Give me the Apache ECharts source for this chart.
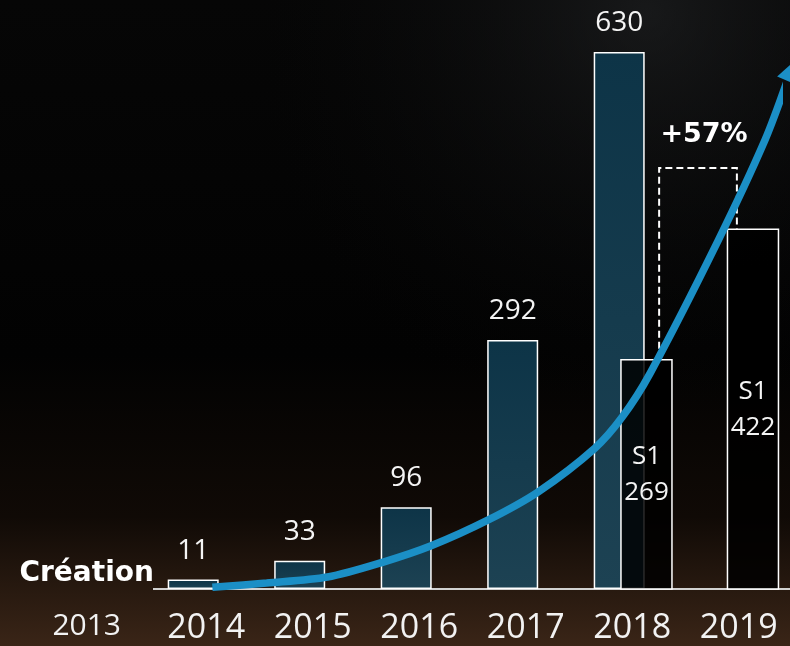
<!DOCTYPE html>
<html><head><meta charset="utf-8">
<script src="https://cdn.jsdelivr.net/npm/echarts@6/dist/echarts.min.js"></script>
<style>html,body{margin:0;padding:0;background:#000}#c{width:790px;height:646px}</style>
</head><body><div id="c"></div>
<script>
// ---- data ----
const years = ['2013', '2014', '2015', '2016', '2017', '2018', '2019'];
const totals = [null, 11, 33, 96, 292, 630, null];
const s1Values = [null, null, null, null, null, 269, 422];
const s1Label = 'S1';
const projected = [null, null, null, null, null, null, 494];
const growthLabel = '+57%';
const creationLabel = 'Création';
const creationIndex = 0;
// growth trend curve (x in category-index units, y in value units)
const trendX = [1.18, 1.69, 2.26, 2.77, 3.24, 3.77, 4.24, 4.77, 5.03, 5.29, 5.93, 6.37, 6.58];
const trendY = [2, 7, 14, 31, 51, 81, 114, 165, 202, 253, 409, 527, 597];
const arrowHead = [6.623, 609];

// ---- chart ----
const chart = echarts.init(document.getElementById('c'), null, {renderer: 'canvas'});
const FONT = '"Open Sans", "Noto Sans", sans-serif';
const BAND_OFF = 0.256;
const BLUE = '#1b8fc6';

const trendData = trendX.map((x, i) => [x, trendY[i]]);
const s1Data = s1Values.map((v, i) => v == null ? null : [i, v]).filter(d => d);
const projData = projected.map((v, i) => v == null ? null : [i, v]).filter(d => d);

chart.setOption({
  animation: false,
  backgroundColor: {
    type: 'linear', x: 0, y: 0, x2: 0, y2: 1,
    colorStops: [
      {offset: 0, color: '#060606'},
      {offset: 0.55, color: '#020202'},
      {offset: 0.8, color: '#100a06'},
      {offset: 1, color: '#3a2517'}
    ]
  },
  graphic: [
    {type: 'rect', z: -10, silent: true, shape: {x: 0, y: 0, width: 790, height: 646},
     style: {fill: {type: 'radial', x: 0.82, y: 0.02, r: 0.7,
       colorStops: [{offset: 0, color: 'rgba(38,40,42,0.55)'}, {offset: 1, color: 'rgba(0,0,0,0)'}]}}},
    {type: 'line', z: 1, silent: true, shape: {x1: 153, y1: 589, x2: 790, y2: 589},
     style: {stroke: '#d2d2d2', lineWidth: 2}}
  ],
  grid: {left: 33.45, right: 11.05, top: 0, bottom: 57, containLabel: false},
  xAxis: [
    {type: 'category', data: years, gridIndex: 0,
     axisLine: {show: false}, axisTick: {show: false}, splitLine: {show: false},
     axisLabel: {
       interval: 0, margin: 22,
       formatter: v => v === '2013' ? '{a|' + v + '}' : '{b|' + v + '}',
       rich: {
         a: {fontSize: 30, fontFamily: FONT, color: '#f2f2f2'},
         b: {fontSize: 34, fontFamily: FONT, color: '#f2f2f2', padding: [0, 0, 0, 26]}
       }
     }},
    {type: 'value', min: -0.5, max: 6.5, show: false, gridIndex: 0}
  ],
  yAxis: {type: 'value', min: 0, max: 691, show: false},
  series: [
    {
      type: 'bar', data: totals, barWidth: 51, z: 2,
      itemStyle: {
        color: {type: 'linear', x: 0, y: 0, x2: 0, y2: 1,
          colorStops: [{offset: 0, color: '#0d3447'}, {offset: 1, color: '#1d4253'}]},
        borderColor: '#ffffff', borderWidth: 1.5
      },
      label: {show: true, position: 'top', distance: 15, color: '#f4f4f4', fontSize: 28, fontFamily: FONT}
    },
    {
      type: 'custom', z: 3, data: projData,
      renderItem: (params, api) => {
        const i = api.value(0), v = api.value(1);
        const top = api.coord([i, v]);
        const band = api.size([1, 0])[0];
        const w = band * 0.73;
        const cx = top[0] - band * 0.26;
        const x1 = cx - w / 2, x2 = cx + w / 2;
        const leftStop = api.coord([i, s1Values[i - 1] || 0])[1];
        const rightStop = api.coord([i, s1Values[i] || 0])[1];
        return {type: 'group', children: [
          {type: 'polyline', shape: {points: [[x1, leftStop], [x1, top[1]], [x2, top[1]], [x2, rightStop]]},
           style: {fill: 'none', stroke: '#ffffff', lineWidth: 2, lineDash: [7, 4]}},
          {type: 'text', style: {text: growthLabel, x: cx + 6, y: top[1] - 33, align: 'center',
            verticalAlign: 'middle', fill: '#ffffff', fontSize: 27, fontWeight: 'bold',
            fontFamily: '"DejaVu Sans", sans-serif'}}
        ]};
      }
    },
    {
      type: 'custom', z: 4, data: s1Data,
      renderItem: (params, api) => {
        const i = api.value(0), v = api.value(1);
        const top = api.coord([i, v]);
        const base = api.coord([i, 0]);
        const band = api.size([1, 0])[0];
        const w = 51;
        const cx = top[0] + band * BAND_OFF;
        return {type: 'group', children: [
          {type: 'rect', shape: {x: cx - w / 2, y: top[1], width: w, height: base[1] - top[1]},
           style: {fill: 'rgba(0,0,0,0.84)', stroke: '#ffffff', lineWidth: 1.5}},
          {type: 'text', style: {text: s1Label + '\n' + v, x: cx, y: (top[1] + base[1]) / 2,
            align: 'center', verticalAlign: 'middle', fill: '#f4f4f4', fontSize: 26,
            lineHeight: 36, fontFamily: FONT}}
        ]};
      }
    },
    {
      type: 'custom', z: 4, data: [[creationIndex, 0]],
      renderItem: (params, api) => {
        const p = api.coord([api.value(0), 0]);
        return {type: 'text', style: {text: creationLabel, x: p[0], y: p[1] - 15, align: 'center',
          verticalAlign: 'middle', fill: '#ffffff', fontSize: 28, fontWeight: 'bold',
          fontFamily: '"DejaVu Sans", sans-serif'}};
      }
    },
    {
      type: 'line', xAxisIndex: 1, z: 6, data: trendData, smooth: 0.3, clip: false,
      symbol: 'none', showSymbol: false,
      lineStyle: {color: BLUE, width: 7.5, cap: 'butt'}
    },
    {
      type: 'scatter', xAxisIndex: 1, z: 6, data: [arrowHead], clip: false,
      symbol: 'triangle', symbolSize: [22, 24], symbolRotate: -24,
      itemStyle: {color: BLUE, opacity: 1}
    }
  ]
});
</script>
</body></html>
